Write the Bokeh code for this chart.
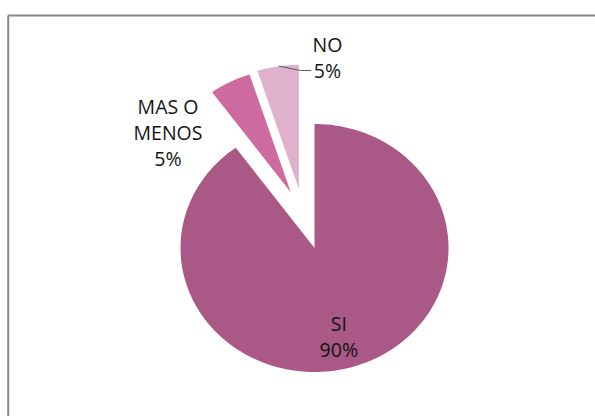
import numpy as np
from bokeh.plotting import figure
from bokeh.models import Range1d
from bokeh.core.properties import value
from bokeh.embed import file_html
from bokeh.resources import INLINE

# ---- data ----
categories = ["SI", "MAS O MENOS", "NO"]
counts = [90, 5, 5]
label_lines = [["SI"], ["MAS O", "MENOS"], ["NO"]]

# ---- style ----
colors = ["#AA5986", "#CD6AA0", "#E0B1CB"]
# explode offsets in units of the pie radius (x, y)
explode = [(0.0, 0.0), (-0.176, 0.448), (-0.117, 0.477)]
# label anchor (page px): centre x and first baseline
label_pos = [(338.3, 323.3), (167.5, 106.3), (327.0, 44.0)]
LINE_STEP = 25.8
FONT = "Open Sans"
FSIZE = "19.5px"

OX, OY = 0, 0           # where the figure lands on the page
W, H = 595, 416
CX, CY = 314.0, 247.5   # pie centre on the page
SX, SY = 134.0, 124.0   # px per radius unit (horizontal / vertical)


def dx(px):
    return (px - CX) / SX


def dy(py):
    return (CY - py) / SY


p = figure(width=W, height=H, output_backend="svg", toolbar_location=None,
           x_range=Range1d(dx(OX), dx(OX + W)), y_range=Range1d(dy(OY + H), dy(OY)),
           min_border=0)
p.axis.visible = False
p.grid.visible = False
p.outline_line_color = None
p.background_fill_color = "white"
p.border_fill_color = "white"

# frame (chart area border, cut at right/bottom like the reference)
p.line([dx(7.7), dx(700)], [dy(15), dy(15)], line_color="#888888", line_width=2)
p.line([dx(7.7), dx(7.7)], [dy(15), dy(600)], line_color="#888888", line_width=2)

total = float(sum(counts))
cum = 0.0
xs, ys = [], []
for i, v in enumerate(counts):
    a0 = np.pi / 2 - 2 * np.pi * cum / total
    a1 = np.pi / 2 - 2 * np.pi * (cum + v) / total
    cum += v
    t = np.linspace(a0, a1, max(8, int(abs(a1 - a0) * 60)))
    ox, oy = explode[i]
    xs.append(list(np.concatenate([[ox], ox + np.cos(t), [ox]])))
    ys.append(list(np.concatenate([[oy], oy + np.sin(t), [oy]])))

p.patches(xs, ys, fill_color=colors, line_color=None)

# leader line for NO
p.line([dx(278.3), dx(300), dx(310.7)], [dy(65.5), dy(70), dy(70)],
       line_color="#595959", line_width=1)

# labels
for i, v in enumerate(counts):
    lines = label_lines[i] + [f"{round(100 * v / total)}%"]
    cxp, by = label_pos[i]
    for k, s in enumerate(lines):
        p.text(x=[dx(cxp)], y=[dy(by + k * LINE_STEP)], text=[s],
               text_align="center", text_baseline="alphabetic",
               text_font=value(FONT), text_font_size=FSIZE,
               text_color="#141414")

open("out.html", "w").write(file_html(p, INLINE))
